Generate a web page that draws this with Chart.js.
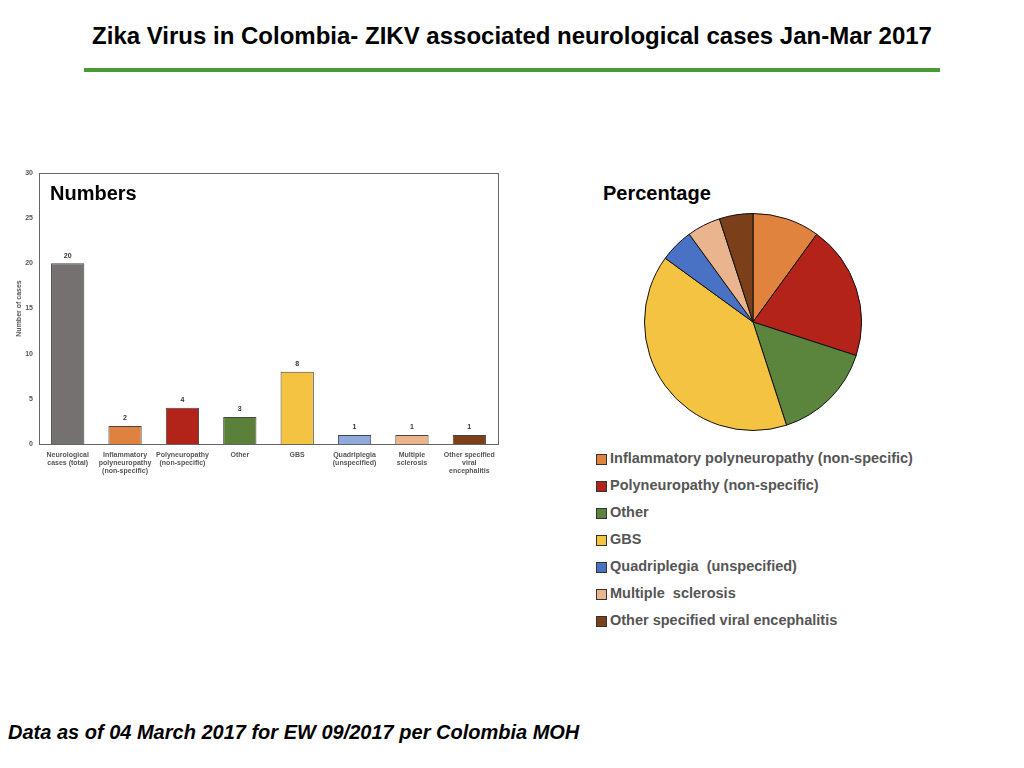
<!DOCTYPE html>
<html>
<head>
<meta charset="utf-8">
<script src="https://cdn.jsdelivr.net/npm/chart.js@4.4.0/dist/chart.umd.min.js"></script>
<style>
  html, body { margin:0; padding:0; background:#fff; }
  body { width:1024px; height:768px; position:relative; overflow:hidden; font-family:"Liberation Sans", Arial, sans-serif; }
  #title { position:absolute; left:0; width:1024px; top:22px; text-align:center; font-weight:bold; font-size:24px; color:#000; white-space:nowrap; }
  #rule { position:absolute; left:84px; top:68px; width:856px; height:4px; background:#479a36; }
  #barWrap { position:absolute; left:0; top:160px; width:510px; height:330px; }
  #pieWrap { position:absolute; left:644px; top:213px; width:218px; height:218px; }
  .sub { position:absolute; font-weight:bold; font-size:20px; color:#000; }
  #legend { position:absolute; left:596px; top:450px; }
  .li { height:27px; display:flex; align-items:flex-start; font-weight:bold; font-size:14.5px; color:#555; white-space:nowrap; }
  .sw { width:9px; height:9px; border:1px solid #333; margin-right:3px; margin-top:4px; flex:none; }
  #foot { position:absolute; left:8px; top:721px; font-weight:bold; font-style:italic; font-size:20px; color:#000; white-space:nowrap; }
</style>
</head>
<body>
<div id="title">Zika Virus in Colombia- ZIKV associated neurological cases Jan-Mar 2017</div>
<div id="rule"></div>
<div id="barWrap"><canvas id="bar"></canvas></div>
<div class="sub" style="left:50px;top:182px;">Numbers</div>
<div class="sub" style="left:603px;top:182px;">Percentage</div>
<div id="pieWrap"><canvas id="pie"></canvas></div>
<div id="legend"></div>
<div id="foot">Data as of 04 March 2017 for EW 09/2017 per Colombia MOH</div>
<script>
const barCategories = [
  ["Neurological", "cases (total)"],
  ["Inflammatory", "polyneuropathy", "(non-specific)"],
  ["Polyneuropathy", "(non-specific)"],
  ["Other"],
  ["GBS"],
  ["Quadriplegia", "(unspecified)"],
  ["Multiple", "sclerosis"],
  ["Other specified", "viral", "encephalitis"]
];
const barValues = [20, 2, 4, 3, 8, 1, 1, 1];
const barColors = ["#767171", "#E0823F", "#B22419", "#5B803A", "#F5C342", "#8FAADC", "#EDB38A", "#7C3F17"];
const yTicks = [0, 5, 10, 15, 20, 25, 30];

const pieLabels = [
  "Inflammatory polyneuropathy (non-specific)",
  "Polyneuropathy (non-specific)",
  "Other",
  "GBS",
  "Quadriplegia  (unspecified)",
  "Multiple  sclerosis",
  "Other specified viral encephalitis"
];
const pieValues = [2, 4, 3, 8, 1, 1, 1];
const pieColors = ["#E0833F", "#B4231A", "#5B843D", "#F5C342", "#4A72C4", "#E9B48E", "#7B3F1A"];

const frame = {
  id: 'frame',
  afterDraw(chart) {
    const a = chart.chartArea, c = chart.ctx;
    c.save();
    c.strokeStyle = '#666';
    c.lineWidth = 1;
    c.strokeRect(Math.round(a.left) + 0.5, Math.round(a.top) + 0.5, Math.round(a.right - a.left), Math.round(a.bottom - a.top));
    c.restore();
  }
};
const valueLabels = {
  id: 'valueLabels',
  afterDatasetsDraw(chart) {
    const c = chart.ctx;
    const meta = chart.getDatasetMeta(0);
    c.save();
    c.font = 'bold 7px "Liberation Sans", Arial, sans-serif';
    c.fillStyle = '#333';
    c.textAlign = 'center';
    c.textBaseline = 'bottom';
    meta.data.forEach((el, i) => {
      c.fillText(String(chart.data.datasets[0].data[i]), el.x, el.y - 4);
    });
    c.restore();
  }
};

new Chart(document.getElementById('bar'), {
  type: 'bar',
  data: {
    labels: barCategories,
    datasets: [{
      data: barValues,
      backgroundColor: barColors,
      borderColor: '#444',
      borderWidth: 1,
      barPercentage: 0.58,
      categoryPercentage: 1
    }]
  },
  options: {
    responsive: true,
    maintainAspectRatio: false,
    animation: false,
    layout: { padding: { top: 13, right: 12, left: 0, bottom: 0 } },
    plugins: { legend: { display: false }, tooltip: { enabled: false } },
    scales: {
      x: {
        grid: { display: false, drawTicks: false },
        border: { display: false },
        ticks: {
          color: '#555',
          font: { size: 7, weight: 'bold', family: '"Liberation Sans", Arial, sans-serif', lineHeight: 1.15 },
          padding: 7,
          maxRotation: 0,
          autoSkip: false
        },
        afterFit(s) { s.height = 46; }
      },
      y: {
        min: 0, max: 30,
        afterBuildTicks(s) { s.ticks = yTicks.map(v => ({ value: v })); },
        grid: { display: false, drawTicks: false },
        border: { display: false },
        ticks: {
          color: '#555',
          font: { size: 7, weight: 'bold', family: '"Liberation Sans", Arial, sans-serif' },
          padding: 6
        },
        title: {
          display: true,
          text: 'Number of cases',
          color: '#555',
          font: { size: 7, weight: 'bold', family: '"Liberation Sans", Arial, sans-serif' },
          padding: { top: 15, bottom: 0 }
        },
        afterFit(s) { s.width = 39; }
      }
    }
  },
  plugins: [frame, valueLabels]
});

new Chart(document.getElementById('pie'), {
  type: 'pie',
  data: {
    labels: pieLabels,
    datasets: [{
      data: pieValues,
      backgroundColor: pieColors,
      borderColor: '#111',
      borderWidth: 1
    }]
  },
  options: {
    responsive: true,
    maintainAspectRatio: false,
    animation: false,
    layout: { padding: 0 },
    plugins: { legend: { display: false }, tooltip: { enabled: false } }
  }
});

const lg = document.getElementById('legend');
pieLabels.forEach((t, i) => {
  const row = document.createElement('div');
  row.className = 'li';
  const sw = document.createElement('span');
  sw.className = 'sw';
  sw.style.background = pieColors[i];
  const tx = document.createElement('span');
  tx.textContent = t;
  tx.style.whiteSpace = 'pre';
  row.appendChild(sw);
  row.appendChild(tx);
  lg.appendChild(row);
});
</script>
</body>
</html>
